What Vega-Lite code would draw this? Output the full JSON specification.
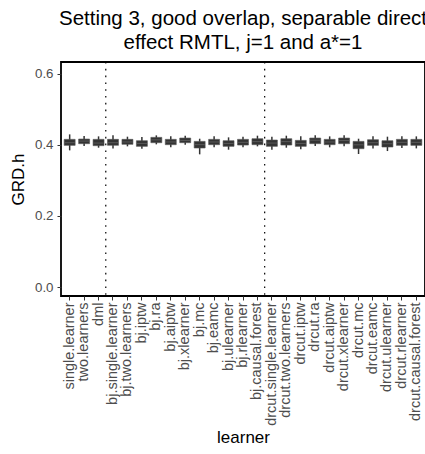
{
  "$schema": "https://vega.github.io/schema/vega-lite/v6.json",
  "autosize": {"type": "none"},
  "padding": {"left": 61, "top": 62, "right": 0, "bottom": 158},
  "width": 364,
  "height": 234,
  "config": {
    "font": "Liberation Sans",
    "view": {"stroke": "black", "strokeWidth": 1.8},
    "axis": {"grid": false, "domain": false, "tickColor": "#333333", "tickSize": 4, "tickWidth": 1, "labelColor": "#4D4D4D", "labelFontSize": 13.3, "titleFontSize": 17, "titleFontWeight": "normal", "titleColor": "black", "labelFont": "Liberation Sans", "titleFont": "Liberation Sans"}
  },
  "title": {
    "text": ["Setting 3, good overlap, separable direct", "effect RMTL, j=1 and a*=1"],
    "fontSize": 20.5, "fontWeight": "normal", "color": "black", "anchor": "middle", "offset": 8, "lineHeight": 24, "font": "Liberation Sans"
  },
  "datasets": {
    "boxes": [
      {"learner": "single.learner", "lo": 0.3844, "q1": 0.3985, "med": 0.406, "q3": 0.4154, "hi": 0.4294},
      {"learner": "two.learners", "lo": 0.3966, "q1": 0.4032, "med": 0.4106, "q3": 0.4163, "hi": 0.4247},
      {"learner": "dml", "lo": 0.3919, "q1": 0.3976, "med": 0.405, "q3": 0.4154, "hi": 0.4238},
      {"learner": "bj.single.learner", "lo": 0.39, "q1": 0.3985, "med": 0.406, "q3": 0.4154, "hi": 0.4266},
      {"learner": "bj.two.learners", "lo": 0.3957, "q1": 0.4013, "med": 0.408, "q3": 0.4154, "hi": 0.4229},
      {"learner": "bj.iptw", "lo": 0.3891, "q1": 0.3957, "med": 0.404, "q3": 0.4116, "hi": 0.4219},
      {"learner": "bj.ra", "lo": 0.4013, "q1": 0.406, "med": 0.414, "q3": 0.421, "hi": 0.4266},
      {"learner": "bj.aiptw", "lo": 0.3929, "q1": 0.4004, "med": 0.408, "q3": 0.4154, "hi": 0.4238},
      {"learner": "bj.xlearner", "lo": 0.4004, "q1": 0.406, "med": 0.4125, "q3": 0.4191, "hi": 0.4257},
      {"learner": "bj.mc", "lo": 0.3732, "q1": 0.391, "med": 0.4005, "q3": 0.4097, "hi": 0.4172},
      {"learner": "bj.eamc", "lo": 0.3929, "q1": 0.4004, "med": 0.408, "q3": 0.4154, "hi": 0.4238},
      {"learner": "bj.ulearner", "lo": 0.3863, "q1": 0.3957, "med": 0.404, "q3": 0.4116, "hi": 0.421},
      {"learner": "bj.rlearner", "lo": 0.3929, "q1": 0.3994, "med": 0.407, "q3": 0.4154, "hi": 0.4229},
      {"learner": "bj.causal.forest", "lo": 0.3957, "q1": 0.4004, "med": 0.409, "q3": 0.4172, "hi": 0.4257},
      {"learner": "drcut.single.learner", "lo": 0.3863, "q1": 0.3957, "med": 0.405, "q3": 0.4135, "hi": 0.4229},
      {"learner": "drcut.two.learners", "lo": 0.3919, "q1": 0.3994, "med": 0.409, "q3": 0.4172, "hi": 0.4257},
      {"learner": "drcut.iptw", "lo": 0.3872, "q1": 0.3957, "med": 0.404, "q3": 0.4125, "hi": 0.4238},
      {"learner": "drcut.ra", "lo": 0.3966, "q1": 0.4032, "med": 0.413, "q3": 0.4191, "hi": 0.4266},
      {"learner": "drcut.aiptw", "lo": 0.3929, "q1": 0.4004, "med": 0.408, "q3": 0.4154, "hi": 0.4238},
      {"learner": "drcut.xlearner", "lo": 0.3957, "q1": 0.4032, "med": 0.412, "q3": 0.4191, "hi": 0.4266},
      {"learner": "drcut.mc", "lo": 0.3741, "q1": 0.3891, "med": 0.4, "q3": 0.4097, "hi": 0.4172},
      {"learner": "drcut.eamc", "lo": 0.39, "q1": 0.3985, "med": 0.406, "q3": 0.4144, "hi": 0.4238},
      {"learner": "drcut.ulearner", "lo": 0.3825, "q1": 0.3938, "med": 0.403, "q3": 0.4116, "hi": 0.4229},
      {"learner": "drcut.rlearner", "lo": 0.391, "q1": 0.3985, "med": 0.407, "q3": 0.4154, "hi": 0.4238},
      {"learner": "drcut.causal.forest", "lo": 0.39, "q1": 0.3985, "med": 0.407, "q3": 0.4154, "hi": 0.4238}
    ],
    "seps": [
      {"learner": "bj.single.learner"},
      {"learner": "drcut.single.learner"}
    ]
  },
  "layer": [
    {
      "data": {"name": "boxes"},
      "mark": {"type": "rule", "color": "#333333", "strokeWidth": 1.5},
      "encoding": {
        "x": {"field": "learner", "type": "nominal", "sort": null,
          "scale": {"domain": ["single.learner","two.learners","dml","bj.single.learner","bj.two.learners","bj.iptw","bj.ra","bj.aiptw","bj.xlearner","bj.mc","bj.eamc","bj.ulearner","bj.rlearner","bj.causal.forest","drcut.single.learner","drcut.two.learners","drcut.iptw","drcut.ra","drcut.aiptw","drcut.xlearner","drcut.mc","drcut.eamc","drcut.ulearner","drcut.rlearner","drcut.causal.forest"], "paddingInner": 0, "paddingOuter": 0.1},
          "axis": {"title": "learner", "labelAngle": 270, "labelPadding": 2, "labelFontSize": 14.5, "titlePadding": 4}},
        "y": {"field": "lo", "type": "quantitative",
          "scale": {"domain": [-0.0253, 0.633], "nice": false, "zero": false},
          "axis": {"title": "GRD.h", "values": [0, 0.2, 0.4, 0.6], "format": ".1f", "labelPadding": 4, "titlePadding": 7}},
        "y2": {"field": "hi"}
      }
    },
    {
      "data": {"name": "boxes"},
      "mark": {"type": "bar", "fill": "#333333", "stroke": "#555555", "strokeWidth": 0.6, "width": {"band": 0.76}},
      "encoding": {
        "x": {"field": "learner", "type": "nominal", "sort": null},
        "y": {"field": "q1", "type": "quantitative"},
        "y2": {"field": "q3"}
      }
    },
    {
      "data": {"name": "boxes"},
      "mark": {"type": "tick", "color": "#6a6a6a", "size": 10, "thickness": 1},
      "encoding": {
        "x": {"field": "learner", "type": "nominal", "sort": null},
        "y": {"field": "med", "type": "quantitative"}
      }
    },
    {
      "data": {"name": "seps"},
      "mark": {"type": "rule", "color": "black", "strokeWidth": 1.2, "strokeDash": [1.6, 5.2]},
      "encoding": {
        "x": {"field": "learner", "type": "nominal", "sort": null, "bandPosition": 0}
      }
    }
  ]
}
